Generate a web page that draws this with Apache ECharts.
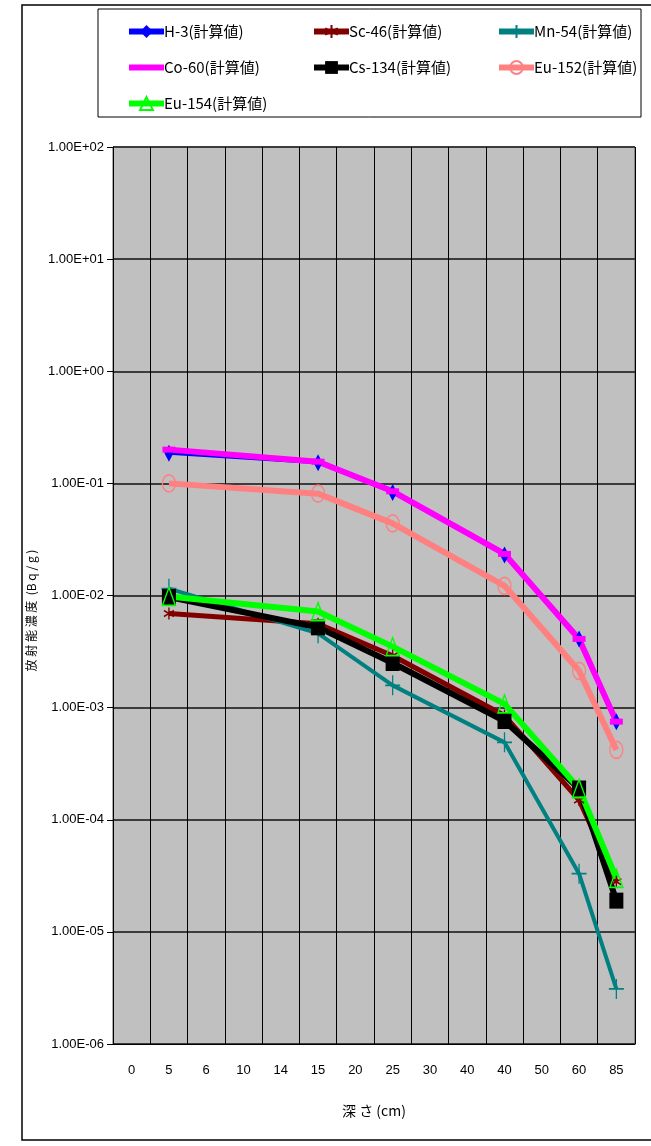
<!DOCTYPE html>
<html>
<head>
<meta charset="utf-8">
<script src="https://cdn.jsdelivr.net/npm/echarts@6/dist/echarts.min.js"></script>
<style>
  html, body { margin: 0; padding: 0; background: #fff; }
  #chart { width: 651px; height: 1146px; }
</style>
</head>
<body>
<div id="chart"></div>
<script>
// depth categories on the x axis (cm)
var depths = ['0', '5', '6', '10', '14', '15', '20', '25', '30', '40', '40', '50', '60', '85'];
// which categories carry a sample (5, 15, 25, 40, 60, 85 cm)
var sampleIdx = [1, 5, 7, 10, 12, 13];

// calculated concentrations (Bq/g)
var h3    = [0.186, 0.153, 0.083, 0.023, 0.0041, 0.00075];
var sc46  = [0.0069, 0.0056, 0.0029, 0.00085, 0.00015, 0.000028];
var mn54  = [0.0115, 0.0046, 0.00158, 0.00049, 0.000033, 0.0000031];
var co60  = [0.20, 0.156, 0.085, 0.0235, 0.0041, 0.00075];
var cs134 = [0.0097, 0.0052, 0.0025, 0.00076, 0.00019, 0.000019];
var eu152 = [0.10, 0.081, 0.044, 0.0122, 0.00213, 0.00042];
var eu154 = [0.0098, 0.0072, 0.0035, 0.00108, 0.00019, 0.000030];

function spread(vals) {
    var out = depths.map(function () { return null; });
    sampleIdx.forEach(function (ix, i) { out[ix] = vals[i]; });
    return out;
}

function sciLabel(v) {
    var e = Math.round(Math.log10(v));
    var s = Math.abs(e) < 10 ? '0' + Math.abs(e) : '' + Math.abs(e);
    return '1.00E' + (e < 0 ? '-' : '+') + s;
}

var narrow = "'Liberation Sans Narrow', 'Liberation Sans', Arial, sans-serif";
var legendFont = "'Liberation Sans Narrow', 'Noto Sans CJK JP', sans-serif";

var asterisk = 'path://M0,-10L0,10M-8.66,-5L8.66,5M-8.66,5L8.66,-5';
var plus = 'path://M0,-10L0,10M-10,0L10,0';

function lineSeries(name, vals, color, width, symbol, size, itemStyle) {
    return {
        name: name,
        type: 'line',
        data: spread(vals),
        connectNulls: true,
        symbol: symbol,
        symbolSize: size,
        showAllSymbol: true,
        lineStyle: { color: color, width: width },
        itemStyle: itemStyle,
        emphasis: { disabled: true },
        animation: false
    };
}

function legendCol(left, names) {
    return {
        left: left, top: 19, orient: 'vertical', itemGap: 21, itemWidth: 35, itemHeight: 16,
        data: names,
        lineStyle: { width: 6 },
        textStyle: { fontSize: 15, fontFamily: legendFont, color: '#000', padding: [0, 0, 0, -5] }
    };
}

var chart = echarts.init(document.getElementById('chart'));
chart.setOption({
    backgroundColor: '#fff',
    textStyle: { fontFamily: narrow },
    graphic: [
        { type: 'rect', shape: { x: 22, y: 5, width: 700, height: 1135 }, style: { fill: 'none', stroke: '#000', lineWidth: 1.5 }, silent: true },
        { type: 'rect', shape: { x: 98, y: 9, width: 543, height: 108 }, style: { fill: '#fff', stroke: '#000', lineWidth: 1 }, silent: true, z: -1 }
    ],
    legend: [
        legendCol(121, ['H-3(計算値)', { name: 'Co-60(計算値)', itemStyle: { opacity: 0 } }, 'Eu-154(計算値)']),
        legendCol(306, ['Sc-46(計算値)', 'Cs-134(計算値)']),
        legendCol(491, ['Mn-54(計算値)', 'Eu-152(計算値)'])
    ],
    grid: {
        left: 113, right: 16, top: 147, bottom: 102,
        show: true, backgroundColor: '#c0c0c0', borderColor: '#555', borderWidth: 1
    },
    xAxis: {
        type: 'category',
        data: depths,
        boundaryGap: true,
        name: '深 さ (cm)',
        nameLocation: 'middle',
        nameGap: 60,
        nameTextStyle: { fontSize: 14, color: '#000', fontFamily: "'Noto Sans CJK JP', sans-serif" },
        axisLine: { lineStyle: { color: '#000' } },
        axisTick: { show: false },
        axisLabel: { interval: 0, fontSize: 13, color: '#000', margin: 20 },
        splitLine: { show: true, interval: 0, lineStyle: { color: '#000', width: 1 } }
    },
    yAxis: {
        type: 'log',
        logBase: 10,
        min: 1e-6,
        max: 1e2,
        name: '放 射 能 濃 度  (B q / g )',
        nameLocation: 'middle',
        nameRotate: 90,
        nameGap: 73,
        nameTextStyle: { fontSize: 12, color: '#000', fontFamily: "'Noto Sans CJK JP', sans-serif", padding: [0, 0, 0, -30] },
        axisLine: { show: true, lineStyle: { color: '#000' } },
        axisTick: { show: true, length: 6, inside: false, lineStyle: { color: '#000' } },
        minorTick: { show: false },
        axisLabel: { fontSize: 13, color: '#000', margin: 9, formatter: function (v) { return sciLabel(v); } },
        splitLine: { show: true, lineStyle: { color: '#3c3c3c', width: 2 } }
    },
    series: [
        lineSeries('H-3(計算値)', h3, '#0000ff', 3, 'diamond', [9, 17], { color: '#0000ff' }),
        lineSeries('Sc-46(計算値)', sc46, '#800000', 5, asterisk, [10, 12], { color: '#800000', borderColor: '#800000', borderWidth: 1.5 }),
        lineSeries('Mn-54(計算値)', mn54, '#008080', 4, plus, [15, 20], { color: '#008080', borderColor: '#008080', borderWidth: 1.5 }),
        lineSeries('Co-60(計算値)', co60, '#ff00ff', 6, 'rect', [13, 6], { color: '#ff00ff' }),
        lineSeries('Cs-134(計算値)', cs134, '#000000', 6, 'rect', [14, 16], { color: '#000000' }),
        lineSeries('Eu-152(計算値)', eu152, '#ff8080', 6, 'circle', [13, 17], { color: 'rgba(0,0,0,0)', borderColor: '#ff8080', borderWidth: 1.5 }),
        lineSeries('Eu-154(計算値)', eu154, '#00ff00', 6, 'triangle', [13, 18], { color: 'rgba(0,0,0,0)', borderColor: '#00ff00', borderWidth: 1.5 })
    ]
});
</script>
</body>
</html>
